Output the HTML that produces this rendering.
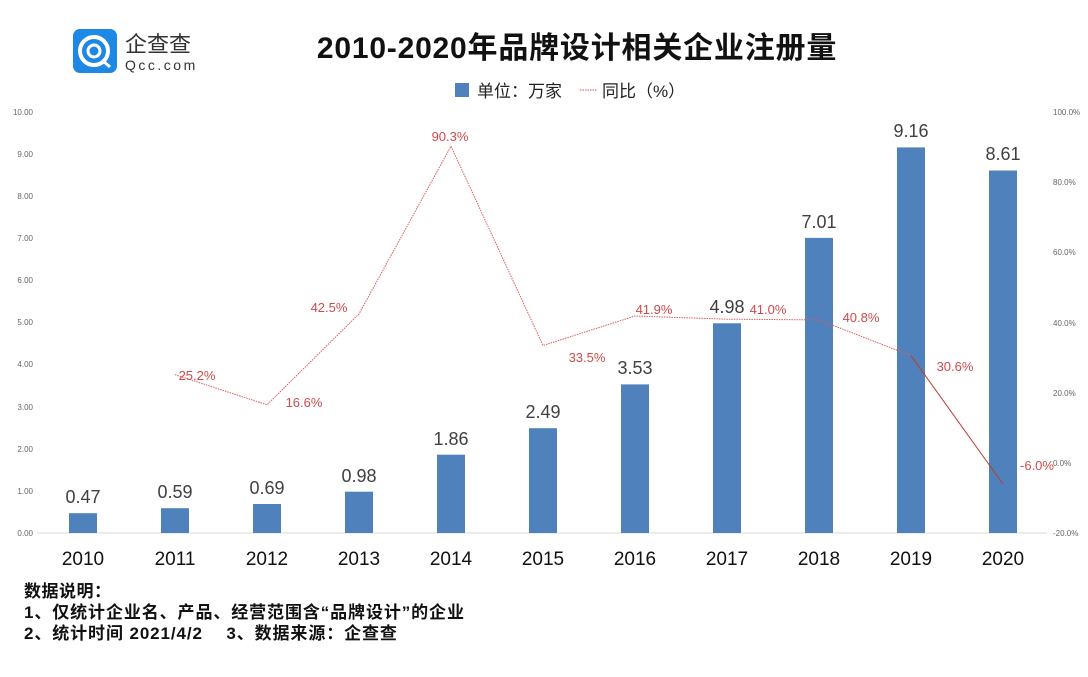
<!DOCTYPE html>
<html><head><meta charset="utf-8"><style>
body{margin:0;background:#fff;}
svg text{font-family:"Liberation Sans","Noto Sans CJK SC",sans-serif;}
</style></head><body>
<svg width="1088" height="672" viewBox="0 0 1088 672" xmlns="http://www.w3.org/2000/svg">
<rect width="1088" height="672" fill="#fff"/>
<!-- logo -->
<rect x="73" y="29" width="44" height="44" rx="7" fill="#1e88e5"/>
<circle cx="94" cy="51" r="14" fill="none" stroke="#fff" stroke-width="4"/>
<circle cx="94" cy="51" r="6" fill="none" stroke="#fff" stroke-width="3"/>
<line x1="102" y1="60" x2="110" y2="67" stroke="#fff" stroke-width="3"/>
<text x="125" y="52" font-size="22" fill="#333">企查查</text>
<text x="125" y="70" font-size="14" fill="#333" letter-spacing="2.5">Qcc.com</text>
<!-- title -->
<text x="577" y="58" font-size="30" font-weight="bold" text-anchor="middle" fill="#111" letter-spacing="0.8">2010-2020年品牌设计相关企业注册量</text>
<!-- legend -->
<rect x="455" y="83" width="14" height="14" fill="#4f81bd"/>
<text x="477" y="97" font-size="17" fill="#222">单位：万家</text>
<line x1="580" y1="90" x2="597" y2="90" stroke="#d9534f" stroke-width="1" stroke-dasharray="1.5,1"/>
<text x="602" y="97" font-size="17" fill="#222">同比（%）</text>
<!-- left axis labels -->
<g font-size="8" fill="#666" text-anchor="end">
<text x="33" y="536">0.00</text><text x="33" y="494">1.00</text><text x="33" y="452">2.00</text><text x="33" y="410">3.00</text><text x="33" y="367">4.00</text><text x="33" y="325">5.00</text><text x="33" y="283">6.00</text><text x="33" y="241">7.00</text><text x="33" y="199">8.00</text><text x="33" y="157">9.00</text><text x="33" y="115">10.00</text>
</g>
<g font-size="8" fill="#666" text-anchor="start">
<text x="1053" y="115">100.0%</text><text x="1053" y="185">80.0%</text><text x="1053" y="255">60.0%</text><text x="1053" y="326">40.0%</text><text x="1053" y="396">20.0%</text><text x="1053" y="466">0.0%</text><text x="1053" y="536">-20.0%</text>
</g>
<line x1="37" y1="533" x2="1047" y2="533" stroke="#d9d9d9" stroke-width="1"/>
<!-- bars -->
<g fill="#4f81bd">
<rect x="69" y="513.2" width="28" height="19.8"/>
<rect x="161" y="508.2" width="28" height="24.8"/>
<rect x="253" y="504" width="28" height="29"/>
<rect x="345" y="491.7" width="28" height="41.3"/>
<rect x="437" y="454.7" width="28" height="78.3"/>
<rect x="529" y="428.2" width="28" height="104.8"/>
<rect x="621" y="384.4" width="28" height="148.6"/>
<rect x="713" y="323.3" width="28" height="209.7"/>
<rect x="805" y="237.9" width="28" height="295.1"/>
<rect x="897" y="147.4" width="28" height="385.6"/>
<rect x="989" y="170.5" width="28" height="362.5"/>
</g>
<g font-size="18" fill="#404040" text-anchor="middle">
<text x="83" y="503">0.47</text><text x="175" y="498">0.59</text><text x="267" y="494">0.69</text><text x="359" y="482">0.98</text><text x="451" y="445">1.86</text><text x="543" y="418">2.49</text><text x="635" y="374">3.53</text><text x="727" y="313">4.98</text><text x="819" y="228">7.01</text><text x="911" y="137">9.16</text><text x="1003" y="160">8.61</text>
</g>
<!-- line -->
<polyline fill="none" stroke="#e05a5a" stroke-width="1" stroke-dasharray="1.5,1" points="175,374.6 267,404.8 359,313.9 451,146.2 543,345.5 635,316 727,319.2 819,319.9 911,355.7"/>
<line x1="911" y1="355.7" x2="1003" y2="484" stroke="#c0392b" stroke-width="1"/>
<g font-size="13" fill="#d04a4a" text-anchor="middle">
<text x="197" y="380">25.2%</text><text x="304" y="407">16.6%</text><text x="329" y="312">42.5%</text><text x="450" y="141">90.3%</text><text x="587" y="362">33.5%</text><text x="654" y="314">41.9%</text><text x="768" y="314">41.0%</text><text x="861" y="322">40.8%</text><text x="955" y="371">30.6%</text><text x="1037" y="470">-6.0%</text>
</g>
<!-- years -->
<g font-size="19" fill="#111" text-anchor="middle">
<text x="83" y="565">2010</text><text x="175" y="565">2011</text><text x="267" y="565">2012</text><text x="359" y="565">2013</text><text x="451" y="565">2014</text><text x="543" y="565">2015</text><text x="635" y="565">2016</text><text x="727" y="565">2017</text><text x="819" y="565">2018</text><text x="911" y="565">2019</text><text x="1003" y="565">2020</text>
</g>
<!-- footer -->
<g font-size="17" font-weight="bold" fill="#111">
<text x="24" y="597" letter-spacing="0.5">数据说明：</text>
<text x="24" y="618" letter-spacing="0.9">1、仅统计企业名、产品、经营范围含“品牌设计”的企业</text>
<text x="24" y="639" letter-spacing="0.9">2、统计时间 2021/4/2　 3、数据来源：企查查</text>
</g>
</svg>
</body></html>
